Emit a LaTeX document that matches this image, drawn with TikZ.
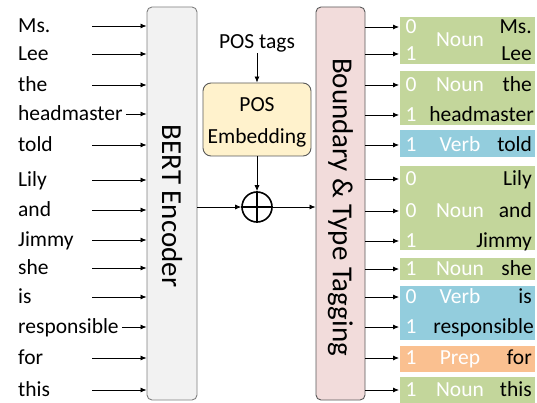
\documentclass[tikz,border=0pt]{standalone}
\usepackage{fontspec}
\setmainfont{Carlito}
\usetikzlibrary{arrows.meta}
\definecolor{bertfill}{HTML}{F2F2F2}
\definecolor{bertdraw}{HTML}{7F7F7F}
\definecolor{tagfill}{HTML}{F2DCDB}
\definecolor{tagdraw}{HTML}{595959}
\definecolor{posfill}{HTML}{FFF2CC}
\definecolor{nounc}{HTML}{C3D69B}
\definecolor{verbc}{HTML}{93CDDD}
\definecolor{prepc}{HTML}{FAC090}
\begin{document}
\begin{tikzpicture}[x=1pt,y=-1pt,
  font=\fontsize{21.5}{24}\selectfont,
  word/.style={inner sep=0pt, text height=13.8pt, text depth=0pt},
  bigbox/.style={rounded corners=5pt, line width=0.9pt, minimum width=50pt, minimum height=393pt, inner sep=0pt},
  biglabel/.style={rotate=-90, font=\fontsize{29}{32}\selectfont, inner sep=0pt},
  arr/.style={-{Latex[length=6pt,width=5pt]}, line width=0.8pt},
  blk/.style={minimum width=135pt, inner sep=0pt},
  wht/.style={word, text=white},
]
\useasboundingbox (0,0) rectangle (537,403);

% boxes
\node[bigbox, draw=bertdraw, fill=bertfill] (bert) at (172,203.5) {};
\node[biglabel] (bertlbl) at (172,206) {BERT Encoder};
\node[bigbox, draw=tagdraw, fill=tagfill, minimum width=49pt] (tag) at (340.5,203.5) {};
\node[biglabel] (taglbl) at (340.5,207) {Boundary \& Type Tagging};

% input words
\node[word, anchor=west] (w1) at (18,26) {Ms.};
\node[word, anchor=west] (w2) at (18,54) {Lee};
\node[word, anchor=west] (w3) at (18,85) {the};
\node[word, anchor=west] (w4) at (18,114) {headmaster};
\node[word, anchor=west] (w5) at (18,145) {told};
\node[word, anchor=west] (w6) at (18,180) {Lily};
\node[word, anchor=west] (w7) at (18,210) {and};
\node[word, anchor=west] (w8) at (18,240) {Jimmy};
\node[word, anchor=west] (w9) at (18,268) {she};
\node[word, anchor=west] (w10) at (18,297) {is};
\node[word, anchor=west] (w11) at (18,327) {responsible};
\node[word, anchor=west] (w12) at (18,358) {for};
\node[word, anchor=west] (w13) at (18,390) {this};

\coordinate (sx) at (92,0);
\foreach \i in {1,2,3,5,6,7,8,9,10,12,13}{
  \draw[arr] (w\i.east -| sx) -- (w\i -| bert.west);
}
\draw[arr] ([xshift=3pt]w4.east) -- (w4 -| bert.west);
\draw[arr] ([xshift=3pt]w11.east) -- (w11 -| bert.west);

% POS branch
\node[word] (postags) at (257,42) {POS tags};
\node[draw=tagdraw, fill=posfill, rounded corners=8pt, line width=0.9pt,
      minimum width=108pt, minimum height=73pt, inner sep=0pt] (posemb) at (257,119.5) {};
\node[word] (poslbl1) at (257,105) {POS};
\node[word] (poslbl2) at (257,137) {Embedding};
\draw[arr] ([yshift=-4pt]postags.south) -- (posemb.north);
\node[circle, draw, line width=1.6pt, minimum size=30pt, inner sep=0pt] (plus) at (257,207) {};
\draw[line width=1.6pt] (plus.north) -- (plus.south) (plus.west) -- (plus.east);
\draw[arr] (posemb.south) -- (plus.north);
\draw[arr] (bert.east |- plus) -- (plus.west);
\draw[arr] (plus.east) -- (tag.west |- plus);

% output blocks
\node[blk, fill=nounc, minimum height=47pt] (b1) at (467.5,40.5) {};
\node[blk, fill=nounc, minimum height=54pt] (b2) at (467.5,98) {};
\node[blk, fill=verbc, minimum height=27pt] (b3) at (467.5,143.5) {};
\node[blk, fill=nounc, minimum height=84pt] (b4) at (467.5,208) {};
\node[blk, fill=nounc, minimum height=22pt] (b5) at (467.5,268.5) {};
\node[blk, fill=verbc, minimum height=54pt] (b6) at (467.5,313) {};
\node[blk, fill=prepc, minimum height=26pt] (b7) at (467.5,359) {};
\node[blk, fill=nounc, minimum height=26pt] (b8) at (467.5,390) {};

% digits
\node[wht] (d1) at (411,27) {0};
\node[wht] (d2) at (411,54) {1};
\node[wht] (d3) at (411,85) {0};
\node[wht] (d4) at (411,115) {1};
\node[wht] (d5) at (411,145) {1};
\node[wht] (d6) at (411,179) {0};
\node[wht] (d7) at (411,211) {0};
\node[wht] (d8) at (411,241) {1};
\node[wht] (d9) at (411,269) {1};
\node[wht] (d10) at (411,297) {0};
\node[wht] (d11) at (411,327) {1};
\node[wht] (d12) at (411,358) {1};
\node[wht] (d13) at (411,390) {1};

% type labels
\node[wht] (t1) at (460,40) {Noun};
\node[wht] (t2) at (460,85) {Noun};
\node[wht] (t3) at (460,145) {Verb};
\node[wht] (t4) at (460,211) {Noun};
\node[wht] (t5) at (460,269) {Noun};
\node[wht] (t6) at (460,297) {Verb};
\node[wht] (t7) at (460,358) {Prep};
\node[wht] (t8) at (460,390) {Noun};

% output words
\node[word, anchor=east] (o1) at (532,27) {Ms.};
\node[word, anchor=east] (o2) at (532,54) {Lee};
\node[word, anchor=east] (o3) at (532,85) {the};
\node[word, anchor=east] (o4) at (534,115) {headmaster};
\node[word, anchor=east] (o5) at (532,145) {told};
\node[word, anchor=east] (o6) at (532,179) {Lily};
\node[word, anchor=east] (o7) at (532,211) {and};
\node[word, anchor=east] (o8) at (532,241) {Jimmy};
\node[word, anchor=east] (o9) at (532,269) {she};
\node[word, anchor=east] (o10) at (532,297) {is};
\node[word, anchor=east] (o11) at (534,327) {responsible};
\node[word, anchor=east] (o12) at (532,358) {for};
\node[word, anchor=east] (o13) at (532,390) {this};

\coordinate (bx) at (399,0);
\foreach \i in {1,...,13}{
  \draw[arr] (tag.east |- d\i) -- (bx |- d\i);
}
\end{tikzpicture}
\end{document}
